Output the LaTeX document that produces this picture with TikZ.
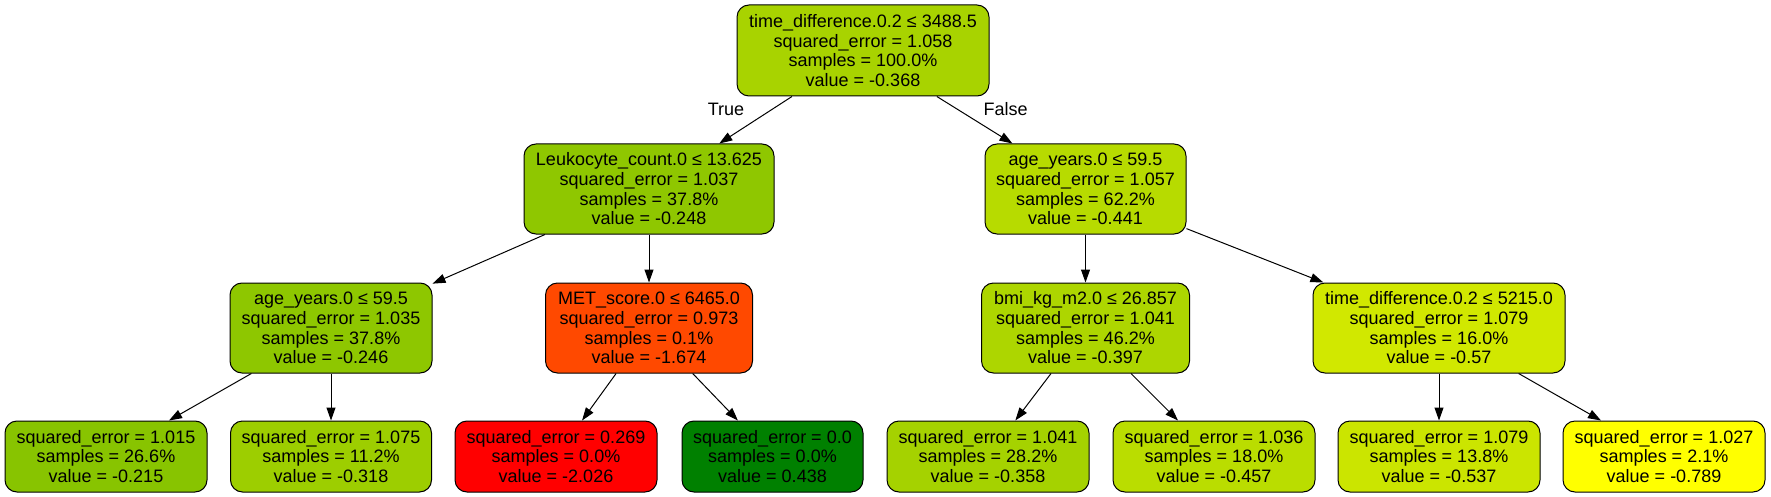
\documentclass[tikz,border=0pt]{standalone}
\usepackage{fontspec}
\setmainfont{Liberation Sans}
\usetikzlibrary{arrows.meta}
\definecolor{cRoot}{RGB}{168,211,0}
\definecolor{cLeuk}{RGB}{143,199,0}
\definecolor{cAgeR}{RGB}{183,219,0}
\definecolor{cAgeL}{RGB}{142,199,0}
\definecolor{cMet}{RGB}{255,73,0}
\definecolor{cBmi}{RGB}{173,214,0}
\definecolor{cTdR}{RGB}{209,232,0}
\definecolor{cLa}{RGB}{136,196,0}
\definecolor{cLb}{RGB}{157,206,0}
\definecolor{cLc}{RGB}{255,0,0}
\definecolor{cLd}{RGB}{0,128,0}
\definecolor{cLe}{RGB}{165,210,0}
\definecolor{cLf}{RGB}{186,221,0}
\definecolor{cLg}{RGB}{203,229,0}
\definecolor{cLh}{RGB}{255,255,0}
\tikzset{
  treenode/.style={draw=black, line width=1pt, rounded corners=12pt, align=center,
    inner sep=0pt, font=\fontsize{18}{19.7}\selectfont, minimum height=90pt},
  leafnode/.style={treenode, minimum height=71pt},
  edgelbl/.style={font=\fontsize{18}{19.7}\selectfont, inner sep=0pt},
  conn/.style={draw=black, line width=1pt, -{Triangle[length=13pt,width=9pt]}}
}
\begin{document}
\begin{tikzpicture}[x=1pt,y=-1pt]
\useasboundingbox (0,0) rectangle (1771,497);
\node[treenode, fill=cRoot, minimum width=252pt, minimum height=91pt] (root) at (863,50.5)
  {time\_difference.0.2 ≤ 3488.5\\squared\_error = 1.058\\samples = 100.0\%\\value = -0.368};
\node[treenode, fill=cLeuk, minimum width=250pt] (leuk) at (649,189)
  {Leukocyte\_count.0 ≤ 13.625\\squared\_error = 1.037\\samples = 37.8\%\\value = -0.248};
\node[treenode, fill=cAgeR, minimum width=201pt] (ager) at (1085.5,189)
  {age\_years.0 ≤ 59.5\\squared\_error = 1.057\\samples = 62.2\%\\value = -0.441};
\node[treenode, fill=cAgeL, minimum width=202pt] (agel) at (331,328)
  {age\_years.0 ≤ 59.5\\squared\_error = 1.035\\samples = 37.8\%\\value = -0.246};
\node[treenode, fill=cMet, minimum width=207pt] (met) at (649,328)
  {MET\_score.0 ≤ 6465.0\\squared\_error = 0.973\\samples = 0.1\%\\value = -1.674};
\node[treenode, fill=cBmi, minimum width=208pt] (bmi) at (1085.5,328)
  {bmi\_kg\_m2.0 ≤ 26.857\\squared\_error = 1.041\\samples = 46.2\%\\value = -0.397};
\node[treenode, fill=cTdR, minimum width=252pt] (tdr) at (1439,328)
  {time\_difference.0.2 ≤ 5215.0\\squared\_error = 1.079\\samples = 16.0\%\\value = -0.57};
\node[leafnode, fill=cLa, minimum width=202pt] (la) at (106,456.5)
  {squared\_error = 1.015\\samples = 26.6\%\\value = -0.215};
\node[leafnode, fill=cLb, minimum width=201pt] (lb) at (331,456.5)
  {squared\_error = 1.075\\samples = 11.2\%\\value = -0.318};
\node[leafnode, fill=cLc, minimum width=202pt] (lc) at (556,456.5)
  {squared\_error = 0.269\\samples = 0.0\%\\value = -2.026};
\node[leafnode, fill=cLd, minimum width=181pt] (ld) at (772.5,456.5)
  {squared\_error = 0.0\\samples = 0.0\%\\value = 0.438};
\node[leafnode, fill=cLe, minimum width=202pt] (le) at (988,456.5)
  {squared\_error = 1.041\\samples = 28.2\%\\value = -0.358};
\node[leafnode, fill=cLf, minimum width=202pt] (lf) at (1214,456.5)
  {squared\_error = 1.036\\samples = 18.0\%\\value = -0.457};
\node[leafnode, fill=cLg, minimum width=202pt] (lg) at (1439,456.5)
  {squared\_error = 1.079\\samples = 13.8\%\\value = -0.537};
\node[leafnode, fill=cLh, minimum width=202pt] (lh) at (1664,456.5)
  {squared\_error = 1.027\\samples = 2.1\%\\value = -0.789};
\node[edgelbl] (ltrue) at (726,109) {True};
\node[edgelbl] (lfalse) at (1005.5,109) {False};
\draw[conn] (root) -- (leuk);
\draw[conn] (root) -- (ager);
\draw[conn] (leuk) -- (agel);
\draw[conn] (leuk) -- (met);
\draw[conn] (ager) -- (bmi);
\draw[conn] (ager) -- (tdr);
\draw[conn] (agel) -- (la);
\draw[conn] (agel) -- (lb);
\draw[conn] (met) -- (lc);
\draw[conn] (met) -- (ld);
\draw[conn] (bmi) -- (le);
\draw[conn] (bmi) -- (lf);
\draw[conn] (tdr) -- (lg);
\draw[conn] (tdr) -- (lh);
\end{tikzpicture}
\end{document}
